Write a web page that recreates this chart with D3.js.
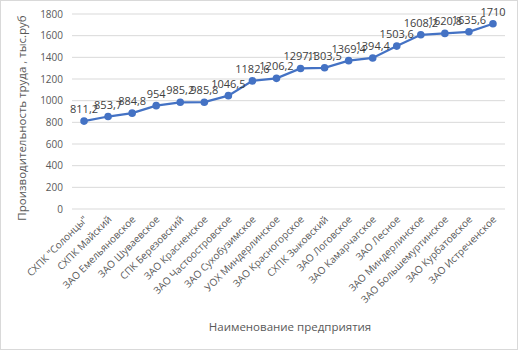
<!DOCTYPE html>
<html lang="ru">
<head>
<meta charset="utf-8">
<title>Производительность труда</title>
<script src="https://d3js.org/d3.v7.min.js"></script>
<style>
  body { margin: 0; background: #fff; }
  .axis text { font-family: "Open Sans", sans-serif; font-size: 10px; fill: #595959; }
  .title { font-family: "Open Sans", sans-serif; font-size: 11.5px; fill: #595959; }
  .lbl { font-family: "Open Sans", sans-serif; font-size: 11px; fill: #404040; }
</style>
</head>
<body>
<div id="chart"></div>
<script>
// categories and values
const firms = ["СХПК \"Солонцы\"", "СХПК Майский", "ЗАО Емельяновское", "ЗАО Шуваевское",
  "СПК Березовский", "ЗАО Красненское", "ЗАО Частоостровское", "ЗАО Сухобузимское",
  "УОХ Миндерлинское", "ЗАО Красногорское", "СХПК Зыковский", "ЗАО Логовское",
  "ЗАО Камарчагское", "ЗАО Лесное", "ЗАО Миндерлинское", "ЗАО Большемуртинское",
  "ЗАО Курбатовское", "ЗАО Истреченское"];
const values = [811.2, 853.7, 884.8, 954, 985.2, 985.8, 1046.5, 1182.6, 1206.2,
  1297.1, 1303.5, 1369.4, 1394.4, 1503.6, 1608.2, 1620.8, 1635.6, 1710];
const yTicks = [0, 200, 400, 600, 800, 1000, 1200, 1400, 1600, 1800];

const W = 521, H = 353;
const margin = { top: 14, right: 16, bottom: 144, left: 72 };
const width = W - margin.left - margin.right;
const height = H - margin.top - margin.bottom;

const svg = d3.select("#chart").append("svg")
  .attr("width", W).attr("height", H);

svg.append("rect")
  .attr("x", 0.5).attr("y", 0.5)
  .attr("width", W - 4).attr("height", H - 4)
  .attr("fill", "#fff").attr("stroke", "#d9d9d9");

const g = svg.append("g")
  .attr("transform", "translate(" + margin.left + "," + margin.top + ")");

const x = d3.scaleBand().domain(firms).range([0, width]);
const y = d3.scaleLinear().domain([0, 1800]).range([height, 0]);

// gridlines
g.selectAll(".grid").data(yTicks).join("line")
  .attr("x1", 0).attr("x2", width)
  .attr("y1", d => y(d)).attr("y2", d => y(d))
  .attr("stroke", "#d9d9d9").attr("stroke-width", 1);

// y axis
const yAxis = g.append("g").attr("class", "axis")
  .call(d3.axisLeft(y).tickValues(yTicks).tickFormat(d3.format("d")).tickSize(0).tickPadding(9));
yAxis.select(".domain").remove();

// x axis
const xAxis = g.append("g").attr("class", "axis")
  .attr("transform", "translate(0," + height + ")")
  .call(d3.axisBottom(x).tickSize(0));
xAxis.select(".domain").remove();
xAxis.selectAll("text")
  .attr("text-anchor", "end")
  .attr("dx", "0").attr("dy", "0")
  .attr("transform", "translate(2,9) rotate(-45)");

// line
const line = d3.line()
  .x((d, i) => x(firms[i]) + x.bandwidth() / 2)
  .y(d => y(d));

g.append("path").datum(values)
  .attr("d", line)
  .attr("fill", "none")
  .attr("stroke", "#4472c4")
  .attr("stroke-width", 2.25);

g.selectAll(".pt").data(values).join("circle")
  .attr("cx", (d, i) => x(firms[i]) + x.bandwidth() / 2)
  .attr("cy", d => y(d))
  .attr("r", 3.8)
  .attr("fill", "#4472c4");

// data labels
g.selectAll(".lbl").data(values).join("text")
  .attr("class", "lbl")
  .attr("x", (d, i) => x(firms[i]) + x.bandwidth() / 2)
  .attr("y", d => y(d) - 8)
  .attr("text-anchor", "middle")
  .text(d => String(d).replace(".", ","));

// axis titles
svg.append("text").attr("class", "title")
  .attr("x", 290).attr("y", 331)
  .attr("text-anchor", "middle")
  .text("Наименование предприятия");

svg.append("text").attr("class", "title")
  .attr("transform", "translate(26,118) rotate(-90)")
  .attr("text-anchor", "middle")
  .text("Производительность труда , тыс.руб");
</script>
</body>
</html>
